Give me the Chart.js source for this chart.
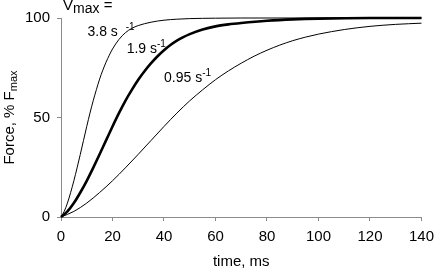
<!DOCTYPE html>
<html>
<head>
<meta charset="utf-8">
<script src="https://cdn.jsdelivr.net/npm/chart.js@4"></script>
<style>
html,body{margin:0;padding:0;background:#fff;}
#wrap{width:441px;height:269px;position:relative;}
</style>
</head>
<body>
<div id="wrap"><canvas id="c" width="441" height="269"></canvas></div>
<script>
// ---- data ----
const xTicks = [0, 20, 40, 60, 80, 100, 120, 140];
const yTicks = [0, 50, 100];

const vmaxLabels = ["3.8", "1.9", "0.95"];

const time38 = [0,1.25,2.5,3.75,5,6.25,7.5,8.75,10,11.25,12.5,13.75,15,16.25,17.5,18.75,20,22.5,25,27.5,30,35,40,45,50,60,70,80,100,120,140];
const force38 = [0,2.8,7,12.3,18.2,24.7,31.5,38.5,45.5,52.2,58.4,64,69.3,73.8,77.8,81.3,84.4,89.2,92.6,94.8,96.2,97.9,98.9,99.4,99.7,99.9,100,100,100,100,100];

const time19 = [0,2.5,5,7.5,10,12.5,15,17.5,20,22.5,25,27.5,30,32.5,35,37.5,40,42.5,45,47.5,50,55,60,65,70,80,90,100,120,140];
const force19 = [0,2.8,7,12.3,18.2,24.7,31.5,38.5,45.5,52.2,58.4,63.9,69,73.4,77.3,80.8,83.8,86.4,88.6,90.4,91.9,94.2,95.8,96.8,97.5,98.6,99.3,99.7,100,100];

const time095 = [0,5,10,15,20,25,30,35,40,45,50,55,60,65,70,75,80,85,90,95,100,110,120,130,140];
const force095 = [0,2.8,7,12.3,18.2,24.7,31.5,38.5,45.5,52.2,58.4,63.9,69,73.4,77.3,80.8,83.8,86.4,88.6,90.4,91.9,94.2,95.8,96.8,97.4];

// ---- layout / style ----
const FONT = '"Liberation Sans", Arial, sans-serif';
const AXIS_COLOR = '#8a8a8a';
const labelPos = [ {t:10.3, f:91, space:true}, {t:25.5, f:82.4, space:false}, {t:40, f:67.8, space:false} ];
const vmaxPos = {t:0.8, f:103.8};

function pts(xs, ys){ return xs.map((x,i)=>({x:x, y:ys[i]})); }

function drawParts(ctx, parts, x, y){
  let cx = x;
  for (const p of parts){
    ctx.font = p.size + 'px ' + FONT;
    ctx.fillText(p.text, cx, y + (p.dy||0));
    cx += ctx.measureText(p.text).width + (p.gap||0);
  }
  return cx - x;
}
function measureParts(ctx, parts){
  let w = 0;
  for (const p of parts){ ctx.font = p.size + 'px ' + FONT; w += ctx.measureText(p.text).width + (p.gap||0); }
  return w;
}

const textPlugin = {
  id: 'texts',
  afterDraw(chart){
    const ctx = chart.ctx, xs = chart.scales.x, ys = chart.scales.y, ca = chart.chartArea;
    ctx.save();
    ctx.fillStyle = '#000';
    ctx.textBaseline = 'alphabetic';
    ctx.textAlign = 'left';
    // Vmax =
    drawParts(ctx, [{text:'V', size:15},{text:'max', size:14, dy:3},{text:' =', size:15}],
      xs.getPixelForValue(vmaxPos.t), ys.getPixelForValue(vmaxPos.f));
    // curve labels
    vmaxLabels.forEach((v,i)=>{
      const p = labelPos[i];
      drawParts(ctx, [{text: v + ' s' + (p.space?'  ':''), size:14},{text:'-1', size:10, dy:-6}],
        xs.getPixelForValue(p.t), ys.getPixelForValue(p.f));
    });
    // x title
    ctx.font = '15px ' + FONT;
    ctx.textAlign = 'center';
    ctx.fillText('time, ms', (ca.left+ca.right)/2, 266);
    // y title
    ctx.textAlign = 'left';
    const yparts = [{text:'Force, % F', size:15},{text:'max', size:11, dy:3}];
    const w = measureParts(ctx, yparts);
    ctx.translate(14, (ca.top+ca.bottom)/2);
    ctx.rotate(-Math.PI/2);
    drawParts(ctx, yparts, -w/2, 0);
    ctx.restore();
  }
};

new Chart(document.getElementById('c'), {
  type: 'line',
  data: {
    datasets: [
      {label: vmaxLabels[0], data: pts(time38, force38), borderColor:'#000', borderWidth:1, pointRadius:0, cubicInterpolationMode:'monotone', fill:false, clip:6},
      {label: vmaxLabels[1], data: pts(time19, force19), borderColor:'#000', borderWidth:2.6, pointRadius:0, cubicInterpolationMode:'monotone', fill:false, clip:6},
      {label: vmaxLabels[2], data: pts(time095, force095), borderColor:'#000', borderWidth:1, pointRadius:0, cubicInterpolationMode:'monotone', fill:false, clip:6}
    ]
  },
  options: {
    responsive: false,
    animation: false,
    devicePixelRatio: 1,
    layout: { padding: { top: 18, right: 12, left: 0, bottom: 0 } },
    plugins: { legend: {display:false}, tooltip: {enabled:false}, title:{display:false} },
    scales: {
      x: {
        type: 'linear', min: 0, max: 140,
        afterBuildTicks(s){ s.ticks = xTicks.map(v=>({value:v})); },
        afterFit(s){ s.height = 52; },
        ticks: { color:'#000', font:{family:FONT, size:15}, padding:7, maxRotation:0, autoSkip:false },
        grid: { drawOnChartArea:false, drawTicks:true, tickLength:4, color:AXIS_COLOR },
        border: { color:AXIS_COLOR, width:1 }
      },
      y: {
        type: 'linear', min: 0, max: 100,
        afterBuildTicks(s){ s.ticks = yTicks.map(v=>({value:v})); },
        afterFit(s){ s.width = 61; },
        ticks: { color:'#000', font:{family:FONT, size:15}, padding:7 },
        grid: { drawOnChartArea:false, drawTicks:true, tickLength:4, color:AXIS_COLOR },
        border: { color:AXIS_COLOR, width:1 }
      }
    }
  },
  plugins: [textPlugin]
});
</script>
</body>
</html>
